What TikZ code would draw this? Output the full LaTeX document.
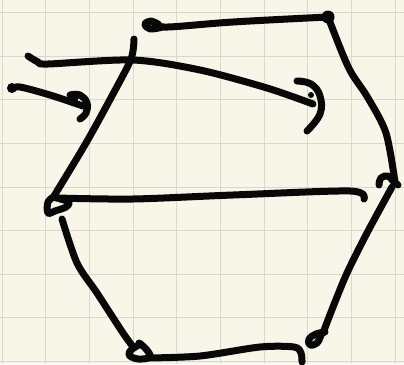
\documentclass[tikz,border=0pt]{standalone}
\definecolor{paper}{HTML}{F8F5E9}
\definecolor{gridc}{HTML}{DAD8CC}
\definecolor{ink}{HTML}{080808}
\begin{document}
\begin{tikzpicture}[x=1pt,y=-1pt,
  pen/.style={draw=ink,line width=7pt,line cap=round,line join=round},
  gridline/.style={draw=gridc,line width=1pt}]
\fill[paper] (0,0) rectangle (404,364);
\useasboundingbox (0,0) rectangle (404,364);
% grid
\foreach \i in {0,...,9} {
  \draw[gridline] ({2+43.7*\i},0) -- ({2+43.7*\i},364);
  \draw[gridline] (0,{12.7+43.6*\i}) -- (404,{12.7+43.6*\i});
}
% vertices
\coordinate (tl) at (148,25);
\coordinate (tr) at (328,17);
\coordinate (r) at (394,183);
\coordinate (br) at (318,337);
\coordinate (bl) at (136,350);
\coordinate (l) at (54,199);
% top edge with small loop
\draw[pen] plot[smooth,tension=0.6] coordinates {(163,27) (150,29) (145,24) (151,21) (158,24) (168,27) (233,22) (tr)};
\fill[ink] (tr) circle (6.5pt);
% right upper edge
\draw[pen] plot[smooth] coordinates {(tr) (343,55) (352,74) (368,98) (386,133) (395,182)};
% right vertex curl
\draw[pen] plot[smooth,tension=0.7] coordinates {(379,185) (381,178) (388,176) (393,181) (398,185)};
% right lower edge
\draw[pen] plot[smooth] coordinates {(392,187) (367,233) (347,273) (333,307) (323,333)};
% lower right curl
\draw[pen] plot[smooth,tension=0.7] coordinates {(325,332) (316,334) (309,339) (310,345) (317,343) (321,335)};
% bottom left curl and bottom edge
\draw[pen] plot[smooth,tension=0.6] coordinates {(141,344) (132,349) (129,355) (138,359) (150,357) (146,349) (139,343)};
\draw[pen] plot[smooth] coordinates {(148,358) (200,356) (260,347) (294,347) (301,353) (302,362)};
% left lower edge
\draw[pen] plot[smooth] coordinates {(62,219) (77,263) (97,293) (123,333) (134,348)};
% left upper edge
\draw[pen] plot[smooth] coordinates {(134,39) (131,59) (113,94) (86,143) (54,196)};
% left vertex loop
\draw[pen] plot[smooth,tension=0.6] coordinates {(55,196) (48,202) (48,213) (55,211) (66,207) (69,202) (60,199)};
% middle horizontal
\draw[pen] plot[smooth] coordinates {(56,198) (133,199) (233,195) (350,191) (364,199)};
% long arrow
\draw[pen] plot[smooth] coordinates {(28,56) (38,62) (48,64) (133,60) (200,70) (267,88) (313,104)};
\draw[pen] plot[smooth,tension=0.7] coordinates {(297,81) (311,84) (320,96) (320,114) (307,131)};
\fill[ink] (311,95) circle (3pt);
% short arrow
\fill[ink] (12,88) circle (5pt);
\draw[pen] plot[smooth] coordinates {(11,89) (20,87) (50,95) (83,106)};
\draw[pen] plot[smooth,tension=0.7] coordinates {(70,95) (80,95) (87,103) (86,113) (80,119)};
\fill[ink] (74,97) circle (5pt);
\end{tikzpicture}
\end{document}
